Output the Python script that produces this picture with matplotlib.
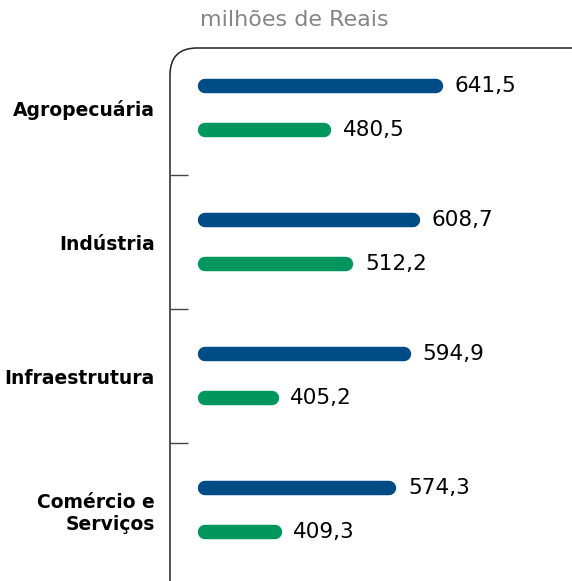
import numpy as np
import matplotlib.pyplot as plt
from matplotlib.path import Path
from matplotlib.patches import PathPatch

# Data
categories = ["Agropecuária", "Indústria", "Infraestrutura", "Comércio e\nServiços"]
valuesBlue = [641.5, 608.7, 594.9, 574.3]
valuesGreen = [480.5, 512.2, 405.2, 409.3]

blue = "#004c87"
green = "#00965e"

fig = plt.figure(figsize=(5.72, 5.81), dpi=100)
ax = fig.add_axes([170 / 572, 0.0, 402 / 572, 1 - 48 / 581])

base = 310        # where every bar starts (value axis doesn't start at zero)
offset = 0.165    # vertical offset of each bar inside its group
barWidth = 10.4   # points

ypos = np.arange(len(categories))
for y, vb, vg in zip(ypos, valuesBlue, valuesGreen):
    ax.plot([base, vb], [y - offset, y - offset], color=blue, lw=barWidth,
            solid_capstyle='round')
    ax.plot([base, vg], [y + offset, y + offset], color=green, lw=barWidth,
            solid_capstyle='round')
    ax.annotate(f"{vb:.1f}".replace('.', ','), (vb, y - offset), xytext=(13.5, 0),
                textcoords='offset points', va='center', ha='left', fontsize=15.5,
                color='#000000')
    ax.annotate(f"{vg:.1f}".replace('.', ','), (vg, y + offset), xytext=(13.5, 0),
                textcoords='offset points', va='center', ha='left', fontsize=15.5,
                color='#000000')

ax.set_xlim(259, 837)
ax.set_ylim(3.53, -0.45)

for s in ax.spines.values():
    s.set_visible(False)

# left + top frame with a rounded corner
rx, ry = 27 / 402, 27 / 533
verts = [(0, 0), (0, 1 - ry), (0, 1), (rx, 1), (1, 1)]
codes = [Path.MOVETO, Path.LINETO, Path.CURVE3, Path.CURVE3, Path.LINETO]
ax.add_patch(PathPatch(Path(verts, codes), transform=ax.transAxes, fill=False,
                       edgecolor='#222222', lw=1.1, clip_on=False))

ax.set_xticks([])
ax.set_yticks(ypos)
ax.set_yticklabels(categories, fontsize=13.5, fontweight='bold', ha='right',
                   multialignment='right')
ax.tick_params(axis='y', which='major', length=0, pad=11)
ax.set_yticks(ypos[:-1] + 0.5, minor=True)
ax.tick_params(axis='y', which='minor', direction='in', length=13, width=1,
               color='#444444')

fig.text(200 / 572, 1 - 20 / 581, "milhões de Reais", fontsize=16,
         color='#858585', ha='left', va='center')

fig.savefig("out.png", dpi=100)
